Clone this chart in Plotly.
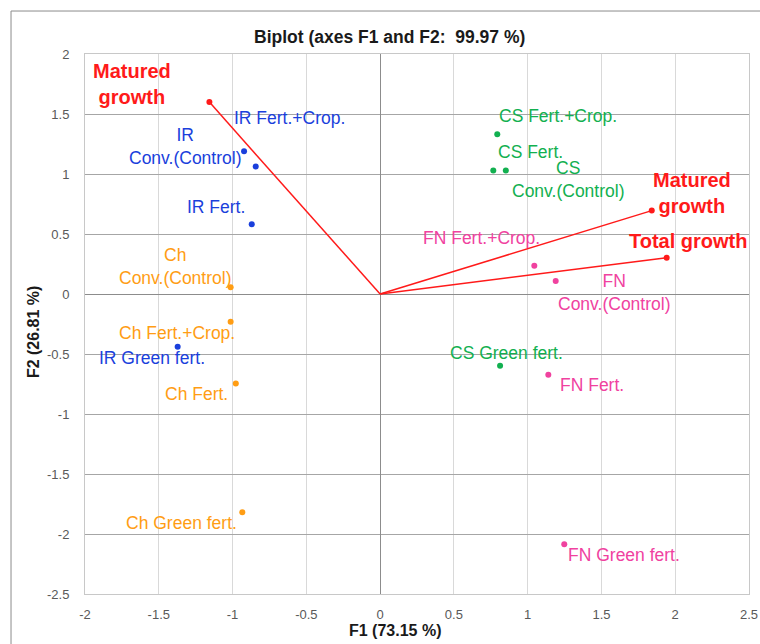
import plotly.graph_objects as go

# ---------------- data ----------------
obs_labels = [
    "IR<br>Conv.(Control)", "IR Fert.+Crop.", "IR Fert.", "IR Green fert.",
    "Ch<br>Conv.(Control)", "Ch Fert.+Crop.", "Ch Fert.", "Ch Green fert.",
    "CS Fert.+Crop.", "CS Fert.", "CS<br>Conv.(Control)", "CS Green fert.",
    "FN Fert.+Crop.", "FN<br>Conv.(Control)", "FN Fert.", "FN Green fert.",
]
obs_group = ["IR"] * 4 + ["Ch"] * 4 + ["CS"] * 4 + ["FN"] * 4
obs_f1 = [-0.922, -0.843, -0.870, -1.372,
          -1.013, -1.013, -0.978, -0.934,
          0.794, 0.767, 0.852, 0.813,
          1.045, 1.190, 1.140, 1.248]
obs_f2 = [1.190, 1.062, 0.581, -0.440,
          0.056, -0.231, -0.745, -1.818,
          1.332, 1.030, 1.030, -0.598,
          0.236, 0.108, -0.673, -2.085]

var_labels = ["Matured<br>growth", "Matured<br>growth", "Total growth"]
var_f1 = [-1.157, 1.841, 1.942]
var_f2 = [1.599, 0.695, 0.303]

x_ticks = [-2, -1.5, -1, -0.5, 0, 0.5, 1, 1.5, 2, 2.5]
y_ticks = [-2.5, -2, -1.5, -1, -0.5, 0, 0.5, 1, 1.5, 2]

title_text = "Biplot (axes F1 and F2:  99.97 %)"
x_title = "F1 (73.15 %)"
y_title = "F2 (26.81 %)"

# ---------------- style ----------------
group_colors = {"IR": "#1a3fdc", "Ch": "#ff9d14", "CS": "#12b050", "FN": "#f0429f"}
var_color = "#ff1a1a"
FONT = "Arial, Liberation Sans, sans-serif"

# label offsets (pixels: dx right, dy down) relative to each point
obs_offsets = [(-59, -5), (34, -49), (-36, -17), (-26, 11),
               (-55, -21), (-54, 11), (-39, 11), (-61, 11),
               (61, -18), (37, -18), (63, 9), (6, -13),
               (-53, -28), (59, 11), (44, 10), (60, 11)]
var_offsets = [(-77, -18), (40, -18), (22, -17)]

fig = go.Figure()

# variable vectors
for vx, vy in zip(var_f1, var_f2):
    fig.add_trace(go.Scatter(
        x=[0, vx], y=[0, vy], mode="lines",
        line=dict(color=var_color, width=1.5),
        hoverinfo="skip", showlegend=False))
fig.add_trace(go.Scatter(
    x=var_f1, y=var_f2, mode="markers",
    marker=dict(color=var_color, size=6),
    showlegend=False))

# observations
for g in ["IR", "Ch", "CS", "FN"]:
    idx = [i for i, gg in enumerate(obs_group) if gg == g]
    fig.add_trace(go.Scatter(
        x=[obs_f1[i] for i in idx], y=[obs_f2[i] for i in idx],
        mode="markers", marker=dict(color=group_colors[g], size=6),
        showlegend=False, name=g))

annotations = []
for i, lab in enumerate(obs_labels):
    dx, dy = obs_offsets[i]
    annotations.append(dict(
        x=obs_f1[i], y=obs_f2[i], xref="x", yref="y", text=lab,
        showarrow=False, xshift=dx, yshift=-dy, align="center",
        xanchor="center", yanchor="middle",
        font=dict(family=FONT, size=17.5, color=group_colors[obs_group[i]])))
for i, lab in enumerate(var_labels):
    dx, dy = var_offsets[i]
    annotations.append(dict(
        x=var_f1[i], y=var_f2[i], xref="x", yref="y", text="<b>" + lab + "</b>",
        showarrow=False, xshift=dx, yshift=-dy, align="center",
        xanchor="center", yanchor="middle",
        font=dict(family=FONT, size=20, color=var_color)))

# axis titles
annotations.append(dict(
    x=0.467, y=-0.0685, xref="paper", yref="paper", text="<b>" + x_title + "</b>",
    showarrow=False, xanchor="center", yanchor="middle",
    font=dict(family=FONT, size=16, color="#1a1a1a")))
annotations.append(dict(
    x=-0.0783, y=0.485, xref="paper", yref="paper", text="<b>" + y_title + "</b>",
    showarrow=False, xanchor="center", yanchor="middle", textangle=-90,
    font=dict(family=FONT, size=16, color="#1a1a1a")))
# title
annotations.append(dict(
    x=0.4586, y=1.0315, xref="paper", yref="paper", text="<b>" + title_text + "</b>",
    showarrow=False, xanchor="center", yanchor="middle",
    font=dict(family=FONT, size=17.5, color="#1a1a1a")))

fig.update_layout(
    width=760, height=644,
    margin=dict(l=85, r=11, t=54, b=50, autoexpand=False),
    paper_bgcolor="white", plot_bgcolor="white",
    annotations=annotations,
    shapes=[dict(type="rect", xref="paper", yref="paper",
                 x0=-0.1114, x1=1.04, y0=-0.12, y1=1.0796,
                 line=dict(color="#8c8c8c", width=1), layer="below")],
    font=dict(family=FONT),
)
fig.update_xaxes(
    range=[-2, 2.5], tickvals=x_ticks, ticktext=[f"{v:g}" for v in x_ticks],
    automargin=False, ticklabeloverflow="allow",
    showgrid=True, gridcolor="#d9d9d9", gridwidth=1,
    zeroline=True, zerolinecolor="#8c8c8c", zerolinewidth=1,
    showline=True, linecolor="#c8c8c8", linewidth=1, mirror=True,
    ticks="outside", ticklen=8, tickcolor="rgba(0,0,0,0)",
    tickfont=dict(family=FONT, size=13, color="#595959"),
)
fig.update_yaxes(
    range=[-2.5, 2], tickvals=y_ticks, ticktext=[f"{v:g}" for v in y_ticks],
    automargin=False,
    showgrid=True, gridcolor="#a6a6a6", gridwidth=1,
    zeroline=True, zerolinecolor="#8c8c8c", zerolinewidth=1,
    showline=True, linecolor="#c8c8c8", linewidth=1, mirror=True,
    ticks="outside", ticklen=12, tickcolor="rgba(0,0,0,0)",
    tickfont=dict(family=FONT, size=13, color="#595959"),
)

fig.write_html(
    "out.html",
    config={"displayModeBar": False},
    post_script="document.body.style.margin='0';document.body.style.overflow='hidden';",
)
